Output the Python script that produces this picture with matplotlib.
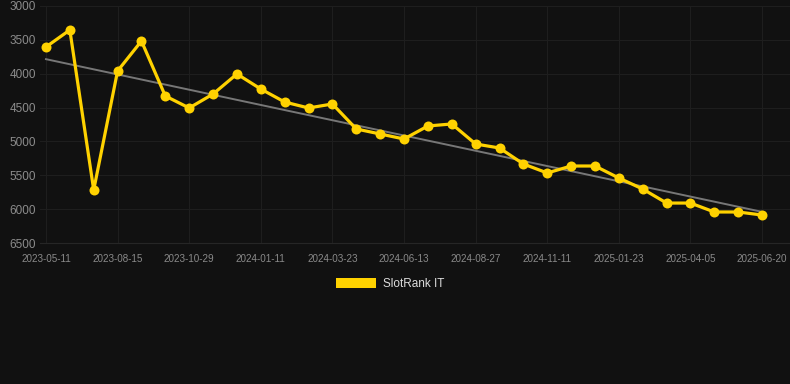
import matplotlib
matplotlib.use("Agg")
import matplotlib.pyplot as plt
from matplotlib.patches import Patch

# rank history (lower is better, so the axis is inverted)
dates = [
    "2023-05-11", "", "", "2023-08-15", "", "", "2023-10-29", "", "", "2024-01-11",
    "", "", "2024-03-23", "", "", "2024-06-13", "", "", "2024-08-27", "", "",
    "2024-11-11", "", "", "2025-01-23", "", "", "2025-04-05", "", "", "2025-06-20",
]
rank = [
    3605, 3354, 5717, 3960, 3517, 4329, 4506, 4300, 4004, 4226,
    4418, 4506, 4447, 4816, 4890, 4964, 4772, 4742, 5038, 5097,
    5333, 5466, 5363, 5363, 5540, 5703, 5910, 5910, 6042, 6042,
    6087,
]
trend = [3785, 6040]
y_ticks = [3000, 3500, 4000, 4500, 5000, 5500, 6000, 6500]
series_name = "SlotRank IT"

BG = "#111111"
YELLOW = "#ffd200"
GRID = "#1e1e1e"

plt.rcParams["font.family"] = ["Liberation Sans", "DejaVu Sans"]

fig = plt.figure(figsize=(7.9, 3.84), dpi=100, facecolor=BG)
ax = fig.add_axes([40 / 790, 1 - 243 / 384, 750 / 790, 237 / 384], facecolor=BG)

x = list(range(len(rank)))
ax.plot([x[0], x[-1]], trend, color="#777777", linewidth=1.4, zorder=2)
ax.plot(x, rank, color=YELLOW, linewidth=2.3, marker="o", markersize=7.2,
        markeredgewidth=0, zorder=3)

ax.set_ylim(6500, 3000)
ax.set_yticks(y_ticks)
ax.set_xlim(-0.25, len(rank) - 1 + 1.17)
label_idx = [i for i, d in enumerate(dates) if d]
ax.set_xticks(label_idx)
ax.set_xticklabels([dates[i] for i in label_idx])

ax.grid(True, color=GRID, linewidth=0.8)
ax.set_axisbelow(True)
for side in ["top", "right", "left"]:
    ax.spines[side].set_visible(False)
ax.spines["bottom"].set_color("#262626")
ax.tick_params(axis="y", length=0, pad=3, labelsize=8.5, labelcolor="#8c8c8c")
ax.tick_params(axis="x", length=0, pad=8, labelsize=7.1, labelcolor="#8a8a8a")

fig.legend(handles=[Patch(facecolor=YELLOW, edgecolor="none", label=series_name)],
           loc="center", bbox_to_anchor=(390 / 790, 1 - 284 / 384), frameon=False,
           fontsize=8.5, labelcolor="#dddddd", handlelength=3.4, handleheight=1.0,
           handletextpad=0.6)

fig.savefig("out.png", dpi=100, facecolor=BG)
